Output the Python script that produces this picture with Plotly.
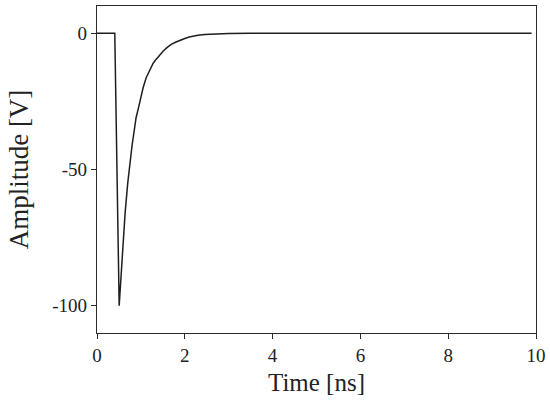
import plotly.graph_objects as go

# Time [ns] and amplitude [V]
time_ns = [0.0, 0.405, 0.505, 0.53, 0.55, 0.575, 0.60, 0.64, 0.70, 0.75, 0.80, 0.85,
           0.89, 0.95, 1.00, 1.05, 1.12, 1.21, 1.28, 1.35, 1.43, 1.51, 1.60, 1.70,
           1.80, 1.89, 2.00, 2.10, 2.20, 2.30, 2.45, 2.60, 2.80, 3.00, 3.50, 9.90]
amplitude_v = [0.0, 0.0, -100.0, -93.0, -87.0, -81.0, -75.0, -66.0, -55.0, -47.5, -41.0, -35.5,
               -31.0, -27.0, -23.3, -20.0, -16.3, -13.0, -11.0, -9.5, -7.9, -6.5, -5.2, -4.0,
               -3.2, -2.5, -1.9, -1.4, -1.0, -0.7, -0.45, -0.3, -0.18, -0.1, 0.0, 0.0]

x_ticks = [0, 2, 4, 6, 8, 10]
y_ticks = [0, -50, -100]

FONT = "Liberation Serif, Times New Roman, serif"
AX = "#2b2b2b"

fig = go.Figure()
fig.add_trace(go.Scatter(
    x=time_ns, y=amplitude_v, mode="lines",
    line=dict(color="#1e1e1e", width=1.5),
    showlegend=False, hoverinfo="skip",
))

axis_common = dict(
    showgrid=False, zeroline=False, showline=True, linecolor=AX, linewidth=1.4,
    mirror=True, ticks="outside", ticklen=5, tickwidth=1.3, tickcolor=AX,
    tickfont=dict(family=FONT, size=19, color="#222"), automargin=False,
)

fig.update_layout(
    width=550, height=401,
    margin=dict(l=97, r=14, t=6, b=68),
    paper_bgcolor="white", plot_bgcolor="white",
    xaxis=dict(range=[0, 10], tickvals=x_ticks, ticktext=[str(v) for v in x_ticks],
               title=dict(text="Time [ns]", font=dict(family=FONT, size=25, color="#222"),
                          standoff=8),
               **axis_common),
    yaxis=dict(range=[-110, 10], tickvals=y_ticks, ticktext=[str(v) for v in y_ticks],
               title=dict(text="Amplitude [V]", font=dict(family=FONT, size=27, color="#222"),
                          standoff=15),
               **axis_common),
)

fig.write_html("out.html",
               config={"displayModeBar": False},
               post_script="document.body.style.margin='0';document.body.style.overflow='hidden';")
